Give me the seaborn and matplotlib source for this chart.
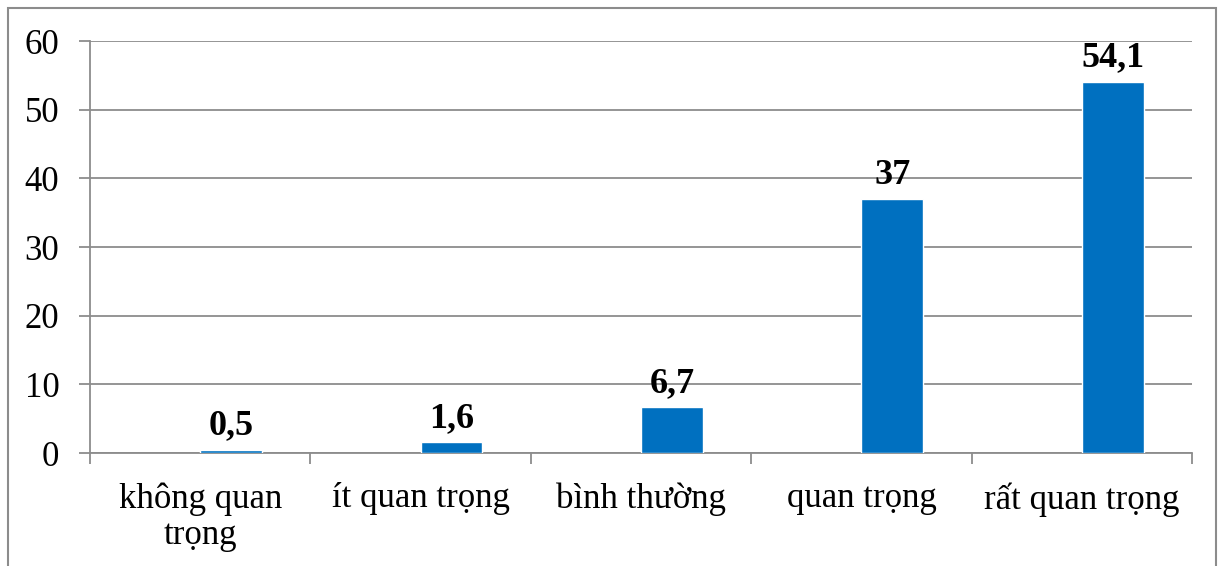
import numpy as np
import pandas as pd
import matplotlib
matplotlib.use("Agg")
import matplotlib.pyplot as plt
from matplotlib.patches import Rectangle
import seaborn as sns

# Data
categories = ["không quan\ntrọng", "ít quan trọng", "bình thường", "quan trọng", "rất quan trọng"]
values = [0.5, 1.6, 6.7, 37, 54.1]
value_labels = ["0,5", "1,6", "6,7", "37", "54,1"]

df = pd.DataFrame({"category": categories, "value": values, "series": "%"})

sns.set_style("white")
plt.rcParams["font.family"] = ["Liberation Serif", "DejaVu Serif"]
plt.rcParams["text.color"] = "black"
plt.rcParams["xtick.color"] = "black"
plt.rcParams["ytick.color"] = "black"

fig = plt.figure(figsize=(12.21, 5.66), dpi=100)
ax = fig.add_axes([90 / 1221, 1 - 453 / 566, (1192 - 90) / 1221, (453 - 41) / 566])

# empty first hue level keeps the bar in the right half of each slot, as in the original
sns.barplot(data=df, x="category", y="value", hue="series", hue_order=[" ", "%"],
            palette={" ": "#0070C0", "%": "#0070C0"}, saturation=1, width=0.56, dodge=True,
            legend=False, ax=ax, zorder=3)

for cont in ax.containers:
    if len(cont) == len(values):
        ax.bar_label(cont, labels=value_labels, padding=5, fontsize=26,
                     fontweight="bold", color="black")

ax.set_ylim(0, 60)
ax.set_yticks(np.arange(0, 61, 10))
ax.set_xlim(-0.5, len(categories) - 0.5)
ax.set_xlabel("")
ax.set_ylabel("")

ax.yaxis.grid(True, color="#8c8c8c", linewidth=1.3, zorder=0)
ax.set_axisbelow(True)
for side in ["top", "right"]:
    ax.spines[side].set_visible(False)
for side in ["left", "bottom"]:
    ax.spines[side].set_color("#8c8c8c")
    ax.spines[side].set_linewidth(1.3)

ax.tick_params(axis="y", length=8, width=1.3, color="#8c8c8c", labelcolor="black",
               labelsize=25, pad=14, left=True)
ax.tick_params(axis="x", which="major", length=0, labelsize=25, labelcolor="black", pad=21)
ax.set_xticks(np.arange(-0.5, len(categories)), minor=True)
ax.tick_params(axis="x", which="minor", length=8, width=1.3, color="#8c8c8c", bottom=True)
for lbl in ax.get_xticklabels():
    lbl.set_linespacing(1.15)

# outer frame of the chart area
fig.patches.append(Rectangle((8 / 1221, -0.1), (1216 - 8) / 1221, 1.1 - 8 / 566,
                             transform=fig.transFigure, fill=False,
                             edgecolor="#8c8c8c", linewidth=1.5))

fig.savefig("out.png", dpi=100)
